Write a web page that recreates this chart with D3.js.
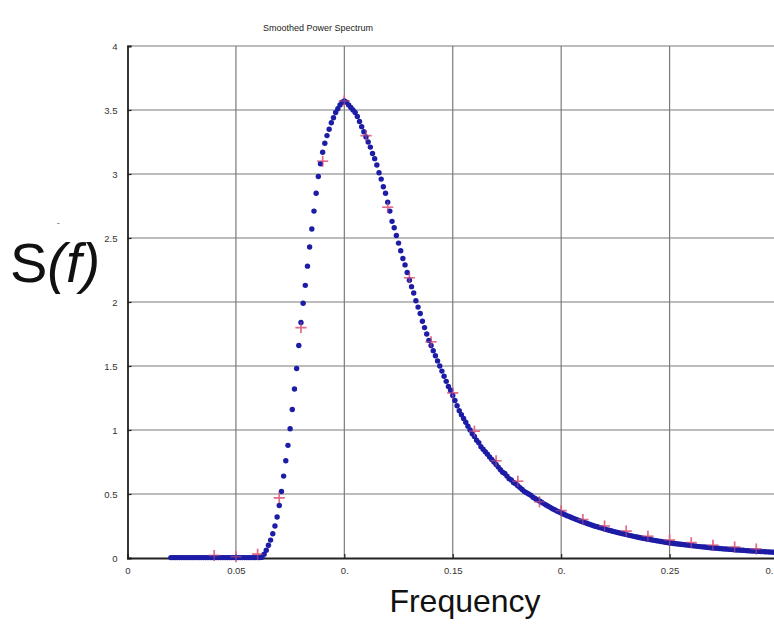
<!DOCTYPE html>
<html><head><meta charset="utf-8">
<script src="https://cdn.jsdelivr.net/npm/d3@7"></script>
<style>html,body{margin:0;padding:0;background:#fff;}svg{display:block;}</style>
</head><body>
<svg id="chart" width="774" height="626"></svg>
<script>
// ---- data ----
const titleText = "Smoothed Power Spectrum";
const xLabel = "Frequency";
const xTickValues = [0, 0.05, 0.1, 0.15, 0.2, 0.25, 0.3];
const xTickLabels = ["0", "0.05", "0.", "0.15", "0.", "0.25", "0."];
const yTickValues = [0, 0.5, 1, 1.5, 2, 2.5, 3, 3.5, 4];
const yTickLabels = ["0", "0.5", "1", "1.5", "2", "2.5", "3", "3.5", "4"];

// smoothed spectrum, one value per 0.001 starting at 0.020
const smoothStart = 0.020;
const smoothStep = 0.001;
const smoothValues = [
 0.003,0.003,0.003,0.003,0.003,0.003,0.003,0.003,0.003,0.003, // 0.020-0.029
 0.003,0.003,0.003,0.003,0.003,0.003,0.003,0.003,0.003,0.003, // 0.030-0.039
 0.003,0.003,0.003,0.003,0.003,0.003,0.003,0.003,0.003,0.003, // 0.040-0.049
 0.003,0.003,0.003,0.003,0.003,0.003,0.003,0.003,0.003,0.003, // 0.050-0.059
 0.003,0.003,0.006,0.03,0.06,0.10,0.14,0.19,0.25,0.32,        // 0.060-0.069
 0.41,0.52,0.64,0.76,0.88,1.01,1.16,1.32,1.48,1.66,           // 0.070-0.079
 1.84,1.99,2.13,2.28,2.43,2.57,2.71,2.85,2.98,3.08,           // 0.080-0.089
 3.17,3.24,3.30,3.35,3.40,3.44,3.48,3.51,3.54,3.56,           // 0.090-0.099
 3.57,3.56,3.54,3.52,3.50,3.48,3.45,3.41,3.37,3.33,           // 0.100-0.109
 3.29,3.25,3.21,3.16,3.12,3.07,3.01,2.96,2.90,2.85,           // 0.110-0.119
 2.78,2.71,2.63,2.58,2.52,2.46,2.40,2.34,2.29,2.23,           // 0.120-0.129
 2.17,2.12,2.07,2.01,1.96,1.91,1.85,1.80,1.75,1.70,           // 0.130-0.139
 1.66,1.62,1.58,1.54,1.50,1.46,1.42,1.38,1.34,1.31,           // 0.140-0.149
 1.27,1.23,1.19,1.15,1.12,1.09,1.06,1.03,1.00,0.97,           // 0.150-0.159
 0.95,0.92,0.90,0.87,0.85,0.83,0.81,0.79,0.77,0.75,           // 0.160-0.169
 0.73,0.71,0.69,0.67,0.66,0.64,0.62,0.61,0.59,0.58,           // 0.170-0.179
 0.565,0.55,0.535,0.52,0.51,0.50,0.49,0.475,0.465,0.455,      // 0.180-0.189
 0.445,0.435,0.425,0.415,0.405,0.395,0.385,0.377,0.368,0.360, // 0.190-0.199
 0.352,0.344,0.336,0.329,0.322,0.315,0.308,0.301,0.294,0.288, // 0.200-0.209
 0.282,0.276,0.270,0.264,0.258,0.252,0.247,0.242,0.237,0.232, // 0.210-0.219
 0.227,0.222,0.217,0.213,0.208,0.204,0.199,0.195,0.191,0.187, // 0.220-0.229
 0.183,0.179,0.175,0.171,0.167,0.164,0.160,0.157,0.153,0.150, // 0.230-0.239
 0.147,0.144,0.141,0.138,0.135,0.132,0.129,0.126,0.123,0.121, // 0.240-0.249
 0.118,0.116,0.113,0.111,0.109,0.107,0.105,0.103,0.101,0.099, // 0.250-0.259
 0.097,0.095,0.093,0.091,0.089,0.087,0.086,0.084,0.082,0.080, // 0.260-0.269
 0.079,0.077,0.076,0.074,0.073,0.071,0.070,0.069,0.067,0.066, // 0.270-0.279
 0.065,0.063,0.062,0.061,0.060,0.058,0.057,0.056,0.055,0.054, // 0.280-0.289
 0.053,0.052,0.051,0.050,0.049,0.048,0.047,0.046,0.045,0.044, // 0.290-0.299
 0.043                                                         // 0.300
];

// raw estimates (red plus markers)
const rawFreq = [0.04,0.05,0.06,0.07,0.08,0.09,0.10,0.11,0.12,0.13,0.14,0.15,0.16,0.17,0.18,0.19,0.20,0.21,0.22,0.23,0.24,0.25,0.26,0.27,0.28,0.29];
const rawValues = [0.02,0.01,0.03,0.47,1.80,3.10,3.57,3.30,2.74,2.19,1.69,1.29,0.99,0.76,0.60,0.44,0.37,0.30,0.25,0.21,0.17,0.14,0.12,0.10,0.085,0.07];

// ---- chart ----
const svg = d3.select("#chart");
const x = d3.scaleLinear().domain([0, 0.3]).range([127.5, 778]);
const y = d3.scaleLinear().domain([0, 4]).range([558, 46]);
const font = "Liberation Sans, Arial, sans-serif";

// gridlines
const grid = svg.append("g");
grid.selectAll("line.gx").data(xTickValues.slice(1)).enter().append("line")
  .attr("x1", d => x(d)).attr("x2", d => x(d))
  .attr("y1", y(0)).attr("y2", y(4))
  .attr("stroke", "#7a7a7a").attr("stroke-width", 1.2);
grid.selectAll("line.gy").data(yTickValues.slice(1)).enter().append("line")
  .attr("x1", x(0)).attr("x2", x(0.3))
  .attr("y1", d => y(d)).attr("y2", d => y(d))
  .attr("stroke", "#7a7a7a").attr("stroke-width", 1.2);

// axes
const xAxis = d3.axisBottom(x).tickValues(xTickValues)
  .tickFormat((d, i) => xTickLabels[i]).tickSize(-4).tickPadding(9);
const yAxis = d3.axisLeft(y).tickValues(yTickValues)
  .tickFormat((d, i) => yTickLabels[i]).tickSize(-4).tickPadding(10);

const gx = svg.append("g").attr("transform", `translate(0,${y(0)})`).call(xAxis);
const gy = svg.append("g").attr("transform", `translate(${x(0)},0)`).call(yAxis);
[gx, gy].forEach(g => {
  g.select(".domain").attr("stroke", "#222").attr("stroke-width", 1.8);
  g.selectAll(".tick line").attr("stroke", "#222").attr("stroke-width", 1.2);
  g.selectAll(".tick text").attr("fill", "#333").style("font-family", font).style("font-size", "9.5px");
});
// keep the last (edge) x label inside the picture
gx.selectAll(".tick text").filter((d, i) => i === xTickValues.length - 1).attr("dx", -9);

// raw markers (plus signs)
svg.append("g").selectAll("path.raw").data(rawFreq).enter().append("path")
  .attr("d", "M-5.5,0H5.5M0,-5.5V5.5")
  .attr("transform", (d, i) => `translate(${x(d)},${y(rawValues[i])})`)
  .attr("fill", "none").attr("stroke", "#e0607e").attr("stroke-width", 1.6).attr("opacity", 0.85);

// smoothed dots
svg.append("g").selectAll("circle").data(smoothValues).enter().append("circle")
  .attr("cx", (d, i) => x(smoothStart + i * smoothStep))
  .attr("cy", d => y(d))
  .attr("r", 2.7)
  .attr("fill", "#1c1ca6");

// markers again lightly on top so their pink shows through
svg.append("g").selectAll("path.raw2").data(rawFreq).enter().append("path")
  .attr("d", "M-5.5,0H5.5M0,-5.5V5.5")
  .attr("transform", (d, i) => `translate(${x(d)},${y(rawValues[i])})`)
  .attr("fill", "none").attr("stroke", "#e0607e").attr("stroke-width", 1.4).attr("opacity", 0.5);

// title
svg.append("text").attr("x", 318).attr("y", 31).attr("text-anchor", "middle")
  .style("font-family", font).style("font-size", "9px").attr("fill", "#222")
  .text(titleText);

// x label
svg.append("text").attr("x", 465).attr("y", 612).attr("text-anchor", "middle")
  .style("font-family", font).style("font-size", "32px").attr("fill", "#111")
  .text(xLabel);

// y label S(f)
const yl = svg.append("text").attr("x", 10).attr("y", 282)
  .style("font-family", font).style("font-size", "56px").attr("fill", "#111");
yl.append("tspan").text("S");
yl.append("tspan").style("font-style", "italic").text("(f)");
svg.append("text").attr("x", 57).attr("y", 228)
  .style("font-family", font).style("font-size", "8px").attr("fill", "#333").text("˜");
</script>
</body></html>
